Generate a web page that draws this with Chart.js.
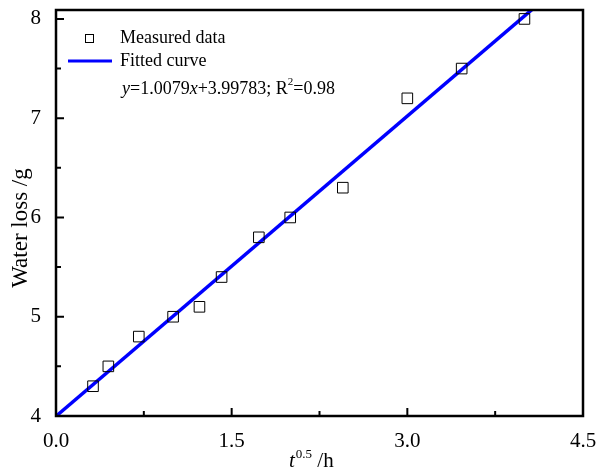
<!DOCTYPE html>
<html lang="en">
<head>
  <meta charset="UTF-8" />
  <title>Water loss vs t^0.5</title>
  <style>
    body { margin: 0; background: #fff; }
    canvas { display: block; }
  </style>
  <script src="https://cdn.jsdelivr.net/npm/chart.js"></script>
</head>
<body>
  <canvas id="chart" width="600" height="471"></canvas>
  <script>
    // measured points (x = t^0.5 in h^0.5, y = water loss in g)
    const sqrtTime = [0.316, 0.447, 0.707, 1.0, 1.225, 1.414, 1.732, 2.0, 2.449, 3.0, 3.464, 4.0];
    const waterLoss = [4.3, 4.5, 4.8, 5.0, 5.1, 5.4, 5.8, 6.0, 6.3, 7.2, 7.5, 8.0];
    // fitted line end points (y = 1.0079x + 3.99783)
    const fitX = [0, 4.2];
    const fitY = [3.998, 8.231];
    const xTicks = [0, 1.5, 3.0, 4.5];
    const yTicks = [4, 5, 6, 7, 8];
    const xMinor = [0.75, 2.25, 3.75];
    const yMinor = [4.5, 5.5, 6.5, 7.5];

    const SERIF = '"Liberation Serif", "DejaVu Serif", serif';

    // frame, inward ticks, axis titles and legend
    const decorPlugin = {
      id: 'decor',
      afterDraw(chart) {
        const ctx = chart.ctx;
        const a = chart.chartArea;
        const xs = chart.scales.x, ys = chart.scales.y;
        ctx.save();
        ctx.strokeStyle = '#000';
        ctx.lineWidth = 2.5;
        ctx.strokeRect(a.left, a.top, a.right - a.left, a.bottom - a.top);

        ctx.lineWidth = 2;
        ctx.beginPath();
        xTicks.forEach(v => { const p = xs.getPixelForValue(v); ctx.moveTo(p, a.bottom); ctx.lineTo(p, a.bottom - 8); });
        xMinor.forEach(v => { const p = xs.getPixelForValue(v); ctx.moveTo(p, a.bottom); ctx.lineTo(p, a.bottom - 5); });
        yTicks.forEach(v => { const p = ys.getPixelForValue(v); ctx.moveTo(a.left, p); ctx.lineTo(a.left + 8, p); });
        yMinor.forEach(v => { const p = ys.getPixelForValue(v); ctx.moveTo(a.left, p); ctx.lineTo(a.left + 5, p); });
        ctx.stroke();

        ctx.fillStyle = '#000';
        // y title
        ctx.save();
        ctx.translate(21, 228);
        ctx.rotate(-Math.PI / 2);
        ctx.font = '23px ' + SERIF;
        ctx.textAlign = 'center';
        ctx.textBaseline = 'middle';
        ctx.fillText('Water loss /g', 0, 0);
        ctx.restore();

        // x title: t^0.5 /h
        ctx.textBaseline = 'alphabetic';
        ctx.textAlign = 'left';
        let x = 289, y = 467;
        ctx.font = 'italic 21px ' + SERIF;
        ctx.fillText('t', x, y); x += ctx.measureText('t').width + 1;
        ctx.font = '13px ' + SERIF;
        ctx.fillText('0.5', x, y - 9); x += ctx.measureText('0.5').width;
        ctx.font = '21px ' + SERIF;
        ctx.fillText(' /h', x, y);

        // legend
        ctx.lineWidth = 1;
        ctx.strokeRect(85.5, 34.5, 8, 8);
        ctx.strokeStyle = '#0000ff';
        ctx.lineWidth = 3;
        ctx.beginPath(); ctx.moveTo(68, 61); ctx.lineTo(112, 61); ctx.stroke();
        ctx.font = '18px ' + SERIF;
        ctx.textBaseline = 'middle';
        ctx.fillText('Measured data', 120, 38);
        ctx.fillText('Fitted curve', 120, 61);

        // equation
        x = 122; y = 89;
        const parts = [
          ['y', 'italic 18px ', 0], ['=1.0079', '18px ', 0], ['x', 'italic 18px ', 0],
          ['+3.99783; R', '18px ', 0], ['2', '11px ', -7], ['=0.98', '18px ', 0]
        ];
        parts.forEach(([t, f, dy]) => {
          ctx.font = f + SERIF;
          ctx.fillText(t, x, y + dy);
          x += ctx.measureText(t).width;
        });
        ctx.restore();
      }
    };

    new Chart(document.getElementById('chart'), {
      type: 'scatter',
      data: {
        datasets: [
          {
            label: 'Fitted curve',
            type: 'line',
            data: fitX.map((v, i) => ({ x: v, y: fitY[i] })),
            borderColor: '#0000ff',
            borderWidth: 3.5,
            pointRadius: 0,
            fill: false,
            order: 2
          },
          {
            label: 'Measured data',
            data: sqrtTime.map((v, i) => ({ x: v, y: waterLoss[i] })),
            pointStyle: 'rect',
            pointRadius: 7.5,
            pointBorderWidth: 1,
            pointBorderColor: '#000',
            pointBackgroundColor: 'rgba(255,255,255,0)',
            order: 1
          }
        ]
      },
      options: {
        responsive: false,
        animation: false,
        layout: { padding: { top: 10, right: 17, left: 0, bottom: 0 } },
        plugins: { legend: { display: false }, tooltip: { enabled: false } },
        scales: {
          x: {
            type: 'linear',
            min: 0, max: 4.5,
            afterBuildTicks: s => { s.ticks = xTicks.map(v => ({ value: v })); },
            afterFit: s => { s.height = 55; s.paddingLeft = 0; s.paddingRight = 0; },
            grid: { display: false },
            border: { display: false },
            ticks: {
              color: '#000',
              font: { family: SERIF, size: 21 },
              padding: 5,
              maxRotation: 0,
              callback: v => Number(v).toFixed(1)
            }
          },
          y: {
            type: 'linear',
            min: 4, max: 8.09,
            afterBuildTicks: s => { s.ticks = yTicks.map(v => ({ value: v })); },
            afterFit: s => { s.width = 56; s.paddingTop = 0; s.paddingBottom = 0; },
            grid: { display: false },
            border: { display: false },
            ticks: {
              color: '#000',
              font: { family: SERIF, size: 21 },
              padding: 7
            }
          }
        }
      },
      plugins: [decorPlugin]
    });
  </script>
</body>
</html>
